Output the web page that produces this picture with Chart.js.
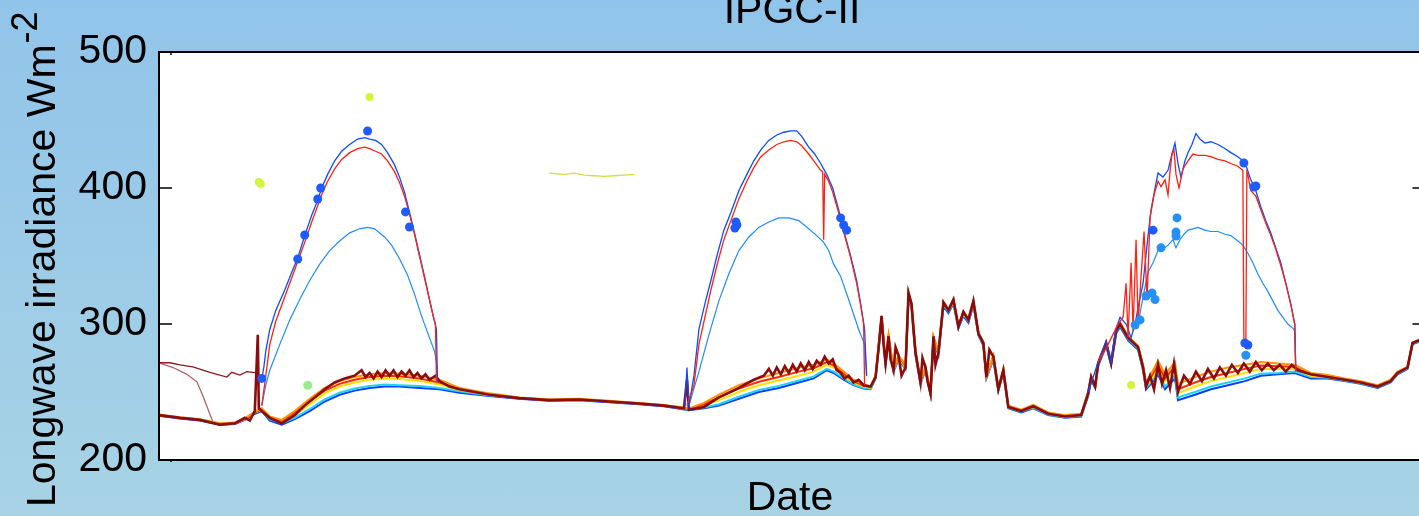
<!DOCTYPE html>
<html>
<head>
<meta charset="utf-8">
<script src="https://cdn.jsdelivr.net/npm/chart.js@4"></script>
<style>
  html, body { margin: 0; padding: 0; }
  body { width: 1419px; height: 516px; overflow: hidden; background: linear-gradient(to bottom, #91c4ea, #a8d3e5); }
  #wrap { width: 1419px; height: 516px; overflow: hidden; }
  canvas { display: block; }
</style>
</head>
<body>
<div id="wrap"><canvas id="lw" width="1430" height="516"></canvas></div>
<script>
// time steps along the record (0 .. 1269)
const bandStep = [0,21,41,61,76,86,96,103,111,123,136,151,166,181,196,211,226,241,261,281,301,331,361,391,421,451,481,506,531,546,561,581,601,621,641,656,669,676,686,696,706,713,718,724,728,731,736,741,748,751,754,758,763,768,773,776,781,786,791,796,801,806,811,816,821,826,829,836,841,846,851,864,876,891,908,924,931,934,938,941,949,954,959,963,971,981,986,989,994,1001,1008,1018,1021,1038,1054,1071,1088,1104,1121,1138,1154,1171,1188,1204,1221,1234,1241,1251,1256,1269];

// radiometer bundle (W m-2)
const bandBlue = [232.5,230.5,229,226,226.5,229.5,234,236,229,226,
  230,236,243,248,251,253,254,254,253,252,
  249.5,247,245,243.5,244,242.5,241,239.5,236.5,238,
  240,245,250,253,257,260,266,264,259,255,
  252.5,252,260,303,270,288,265,274,267,319,
  312,277,256,266,248,288,277,313,308,315,
  297,306,301,314,292,284,260,274,251,264,
  238,235,238,233,231,232,247,259,253,269,
  284,270,293,298,288,281,266,252,256,263,
  252,260,244,248,252,255,258,262,263,264,
  260,260,258,256,253,257,263,267,285,289];
const bandCyan = [233,231,229.5,226.5,227,230,235,236.5,230,227,
  231,237.5,244.5,249.5,252.5,254.5,255.5,255,254.5,253,
  250.5,247.5,245.5,244,244.5,243,241.5,240,237,238.5,
  241,246.5,251.5,254.5,258.5,261.5,267,265,260,255.5,
  253,252.5,260.5,304,270.5,289,265.5,275,267.5,320,
  313,278,256.5,267,248.5,289,278,314,309,316,
  297.5,307,302,315,292.5,285,260.5,275,251.5,265,
  238.5,235.5,238.5,233.5,231.5,232.5,248,260,253.5,270,
  285,270.5,294,299,289,282,267,253,257,264.5,
  254,262,246,250,254,257,260,263.5,264,265,
  261,260.5,258.5,256.5,253.5,257.5,263.5,267.5,285.5,289.5];
const bandYellow = [233,231,229.5,226.5,227,230,235,237,231,228,
  233,241,249,254,257,259,260,259.5,258,255.5,
  251.5,248,245.5,244,244.5,243,241.5,240,237.5,240,
  244,250,255,258.5,262,265,270,268,262,257,
  254,253,261,305,271,290,266,276,268,322,
  314,279,257,268,249,290,279,315,310,317,
  298,308,303,316,293,286,261,276,252,266,
  239,236,239,234,232,233,249,261,254,271,
  286,271,295,300,290,283,268,254,259,268,
  258,267,249,254,258,261,264,267,267,267,
  262,261,259,257,254,258,264,268,286,290];
const bandOrange = [233.5,231.5,230,227,227.5,230.5,235.5,238,232,229.5,
  236,245,253,258,261,263,264,263.5,262,259,
  253,249,246,244.5,245,243.5,242,240.5,238,242,
  248,255,260,264,268,270,274,271,265,259,
  255.5,254,262,306,272,292,267,277,270,323,
  315,281,258,269,250,291,280,316,311,318,
  299,309,304,317,294,287,262,277,253,267,
  240,237,240.5,235,233,234,250,262,255,272,
  287,272,296,301,291,284,270,257,263,273,
  263,272,256,261,265,268,270,272,271,270,
  264,262.5,260,258,255,259,265,268.5,286.5,290.5];
const bandRed = [233,231,229.5,226.5,227,230,235,237.5,231.5,229,
  235,243.5,251,256,259,261,262,261.5,260,257,
  252.5,248.5,245.5,244,244.5,243,241.5,240,237.5,241,
  246,252.5,257.5,261,265,267.5,272,269.5,263.5,258,
  254.5,253.5,261.5,305.5,271.5,291,266.5,276.5,269,322.5,
  314.5,280,257.5,268.5,249.5,290.5,279.5,315.5,310.5,317.5,
  298.5,308.5,303.5,316.5,293.5,286.5,261.5,276.5,252.5,266.5,
  239.5,236.5,239.5,234.5,232.5,233.5,249.5,261.5,254.5,271.5,
  286.5,271.5,295.5,300.5,290.5,283.5,269,256,261,270,
  260,269,252,257,261,264,267,269.5,269,268.5,
  263,261.5,259.5,257.5,254.5,258.5,264.5,268,286,290];

const maroonStep = [0,21,41,61,76,86,91,96,99,100,
  103,111,123,136,146,156,166,176,186,196,
  203,207,211,215,219,223,227,231,235,239,
  243,247,251,255,259,263,267,271,277,281,
  291,301,331,361,391,421,451,481,506,526,
  529,531,546,561,581,596,606,611,615,619,
  623,627,631,635,639,643,647,651,655,659,
  663,667,671,675,679,683,687,691,696,701,
  706,713,718,721,724,726,728,731,733,736,
  738,741,744,748,751,754,756,758,763,765,
  768,770,773,776,778,781,786,791,796,801,
  806,811,816,821,826,829,832,836,841,846,
  851,864,876,891,908,924,931,934,938,941,
  949,954,959,963,971,981,986,989,993,997,
  1001,1005,1009,1013,1017,1021,1027,1033,1039,1045,
  1051,1057,1063,1069,1075,1081,1087,1093,1099,1105,
  1111,1117,1123,1129,1135,1141,1154,1171,1188,1204,
  1221,1234,1241,1251,1256,1269];
const maroonVal = [233,231,229.5,226,227,231,229,236,292,238,
  236,231,227,233,240,246,252,257,260,262,
  266,261,264,260,265,261,266,262,266,261,
  265,262,266,261,264,260,263,259,262,258,
  254,252,248,245.5,244,244.5,243,241.5,240,238,
  259,237,239,246,253,259,262,267,262,268,
  263,269,264,270,265,271,266,272,267,273,
  270,276,271,274,266,264,260,262,257,259,
  255,254,261,282,306,285,271,291,274,266,
  283,277,262,268,323,315,296,279,257,275,
  268,258,249,291,270,279,316,310,318,298,
  309,303,317,293,286,261,281,276,252,266,
  239,236,239.5,234,232,233,249,261,254,271,
  286,271,295,300,290,283,268,254,262,252,
  270,256,266,253,271,250,262,256,265,258,
  267,260,268,262,270,264,271,265,272,266,
  271,266,270,265,270,266,263,261,259,257,
  254,258,264,268,286,290];

// sky-facing sensors during the three days (null = no record)
const upBlueStep = [101,103,105,107,111,117,126,133,139,146,153,159,163,169,176,183,191,199,206,211,217,223,229,236,241,246,251,256,261,266,271,275,278,279,280,
  527,529,531,536,541,547,553,559,566,573,581,589,596,603,611,619,626,633,639,644,651,657,663,669,675,681,687,693,699,703,707,709,710,
  931,941,949,954,959,963,969,974,978,981,986,991,994,998,1001,1006,1011,1015,1018,1021,1024,1028,1031,1035,1039,1043,1048,1054,1061,1068,1074,1081,1088,1094,1099,1104,1109,1114,1119,1124,1129,1134,1138,1139];
const upBlueVal = [262,260,268,280,296,310,325,338,348.5,365,380,391,400,410,420,427,432,436,437,436,435,432,426,417,408,397,382,367,351,335,318,305,296,258,null,
  240,268,240,262,296,315,332,350,369,382,398,410,420,428,435,439,441,442,442,438,430,425,418,410,400,384,366,350,332,315,296,262,null,
  250,272,287,272,297,305,300,290,300,312,330,365,384,400,411,408,413,425,433,418,408,420,426,432,440,436,433,434,432,429,426,423,419,406,398,386,376,367,356,345,330,315,300,266];

const upRedStep = [103,107,111,117,126,133,139,146,153,159,163,169,176,183,191,199,206,211,217,223,229,236,241,246,251,256,261,266,271,275,277,278,280,
  529,536,541,547,553,559,566,573,581,589,596,603,611,619,626,633,639,644,651,657,663,665,666,667,671,675,681,687,693,699,703,706,707,710,
  941,951,961,966,969,971,974,976,979,981,984,987,990,993,997,1001,1004,1008,1011,1013,1015,1017,1019,1022,1026,1031,1036,1041,1048,1054,1061,1068,1074,1081,1086,1087,1089,1090,1091,1094,1099,1104,1109,1114,1119,1124,1129,1134,1138,1139];
const upRedVal = [240,262,285,302,320,334,346,360,375,387,395,405,414,421,426,429,430,429,427,425,420,412,404,394,381,366,350,334,318,305,300,258,null,
  240,255,285,305,325,343,362,376,392,405,415,423,428,432,434,435,434,431,425,419,413,412,362,410,405,397,382,365,349,330,314,300,255,null,
  272,285,300,305,330,290,345,295,362,300,335,368,318,378,395,405,401,406,395,412,425,428,410,400,414,420,425,424,424,423,421,420,418,416,413,287,287,412,410,398,394,384,374,365,355,343,330,314,300,265];

const upSkyStep = [103,107,111,121,131,141,151,161,171,181,191,201,209,216,226,233,241,249,256,263,271,276,278,279,280,
  531,541,551,561,571,581,591,601,611,621,631,641,651,659,666,671,676,683,691,697,701,707,709,710,
  981,986,991,996,1001,1006,1011,1016,1019,1023,1027,1031,1036,1041,1048,1054,1061,1068,1074,1081,1086,1091,1096,1101,1106,1111,1116,1121,1126,1131,1136,1138,1139];
const upSkyVal = [240,255,266,285,303,318,332,344,354,361,367,370,371,370,364,358,348,336,322,306,290,280,272,258,null,
  240,265,292,317,337,354,364,371,375,378,378,376,370,365,360,354,344,335,318,305,296,285,262,null,
  300,320,338,345,354,355,358,362,356,362,366,369,370,371,369,368,368,366,365,361,358,352,345,337,330,324,317,310,305,300,297,295,265];

// older traces before the record starts
const oldAStep = [0,11,21,34,51,68,73,81,88,94,99];
const oldAVal = [271.5,271.5,270,268.5,264.5,261,264.5,262.5,265,264.5,264];
const oldBStep = [0,14,28,38,44,54,61];
const oldBVal = [271.5,268,263,257.5,247,228,226.5];
const limeStep = [391,406,416,426,436,446,456,466,476];
const limeVal = [411,410,411,409.5,409,408.5,409,409.5,410];

// single readings
const dotBlueStep = [103,139,146,159,162,209,247,251,577,578,579,683,686,689,996,1087,1097,1099,1088,1091];
const dotBlueVal = [260,347.8,365.4,391.9,400,441.9,382.4,371.3,370.6,375,372.8,378,372.8,369,369,418.4,400.7,401.5,286,284.6];
const dotSkyStep = [978,983,989,995,998,1004,1020,1019,1019,1089];
const dotSkyVal = [299.3,303,320.6,322.8,318,356,378,367.6,364.7,277];
const dotLimeStep = [100,102,211,974];
const dotLimeVal = [404.4,403,467,255.1];
const dotGreenStep = [149];
const dotGreenVal = [255];

const yTicks = [200, 300, 400, 500];

const pts = (xs, ys) => xs.map((x, i) => ({ x: x, y: ys[i] }));

const line = (xs, ys, color, width) => ({
  data: pts(xs, ys), showLine: true, borderColor: color, backgroundColor: color,
  borderWidth: width, pointRadius: 0, tension: 0, spanGaps: false
});
const dots = (xs, ys, color, r) => ({
  data: pts(xs, ys), showLine: false, backgroundColor: color, borderColor: color,
  pointRadius: r, pointBorderWidth: 0
});

// listed bottom layer first, reversed below so the last one ends on top
const layers = [
  line(oldBStep, oldBVal, 'rgba(170,80,80,0.9)', 1.3),
  line(oldAStep, oldAVal, '#8e1a1a', 1.3),
  line(bandStep, bandBlue, '#0a3cff', 2),
  line(bandStep, bandCyan, '#1cd6f0', 2),
  line(bandStep, bandYellow, '#ffe100', 2),
  line(bandStep, bandRed, '#ff2a00', 2),
  line(bandStep, bandOrange, '#ff9300', 2),
  line(maroonStep, maroonVal, '#8b0c0c', 2.6),
  line(limeStep, limeVal, '#cde23c', 1.3),
  line(upSkyStep, upSkyVal, '#1e8cff', 1.2),
  line(upBlueStep, upBlueVal, '#0a4cff', 1.3),
  line(upRedStep, upRedVal, '#ff2010', 1.3),
  dots(dotGreenStep, dotGreenVal, '#98ee8c', 4.5),
  dots(dotLimeStep, dotLimeVal, '#d2f53a', 4),
  dots(dotSkyStep, dotSkyVal, '#2591f5', 4.5),
  dots(dotBlueStep, dotBlueVal, '#1f5bff', 4.5)
];

const FONT = '"Liberation Sans", Arial, sans-serif';

const frame = {
  id: 'frame',
  beforeDraw(chart) {
    const { ctx, chartArea: a } = chart;
    ctx.save();
    ctx.fillStyle = '#ffffff';
    ctx.fillRect(a.left, a.top, a.right - a.left, a.bottom - a.top);
    ctx.restore();
  },
  afterDraw(chart) {
    const { ctx, chartArea: a } = chart;
    const y = chart.scales.y;
    ctx.save();
    ctx.strokeStyle = '#000';
    ctx.lineWidth = 2;
    ctx.strokeRect(a.left, a.top, a.right - a.left, a.bottom - a.top);
    ctx.lineWidth = 1.5;
    ctx.beginPath();
    yTicks.forEach(v => {
      const py = y.getPixelForValue(v);
      ctx.moveTo(a.left, py); ctx.lineTo(a.left + 13, py);
      ctx.moveTo(a.right, py); ctx.lineTo(a.right - 13, py);
    });
    const px = chart.scales.x.getPixelForValue(12);
    ctx.moveTo(px, a.top); ctx.lineTo(px, a.top + 3);
    ctx.moveTo(px, a.bottom); ctx.lineTo(px, a.bottom + 2);
    ctx.stroke();

    ctx.fillStyle = '#000';
    ctx.font = '41px ' + FONT;
    ctx.textAlign = 'center';
    ctx.textBaseline = 'alphabetic';
    ctx.fillText('IPGC-II', 792, 23);
    ctx.fillText('Date', 790, 510);

    ctx.translate(55, 507);
    ctx.rotate(-Math.PI / 2);
    ctx.textAlign = 'left';
    const main = 'Longwave irradiance Wm';
    ctx.fillText(main, 0, 0);
    const w = ctx.measureText(main).width;
    ctx.font = '36px ' + FONT;
    ctx.fillText('-2', w + 1, -18);
    ctx.restore();
  }
};

new Chart(document.getElementById('lw'), {
  type: 'scatter',
  data: { datasets: layers.slice().reverse() },
  options: {
    responsive: false,
    animation: false,
    devicePixelRatio: 1,
    layout: { padding: { top: 52, right: 2, bottom: 56, left: 0 } },
    plugins: { legend: { display: false }, tooltip: { enabled: false } },
    scales: {
      x: { type: 'linear', min: 0, max: 1269, display: false },
      y: {
        min: 200, max: 500,
        afterFit: s => { s.width = 159; },
        afterBuildTicks: s => { s.ticks = yTicks.map(v => ({ value: v })); },
        grid: { display: false, drawTicks: false },
        border: { display: false },
        ticks: { color: '#000', padding: 12, font: { size: 41, family: FONT } }
      }
    }
  },
  plugins: [frame]
});
</script>
</body>
</html>
